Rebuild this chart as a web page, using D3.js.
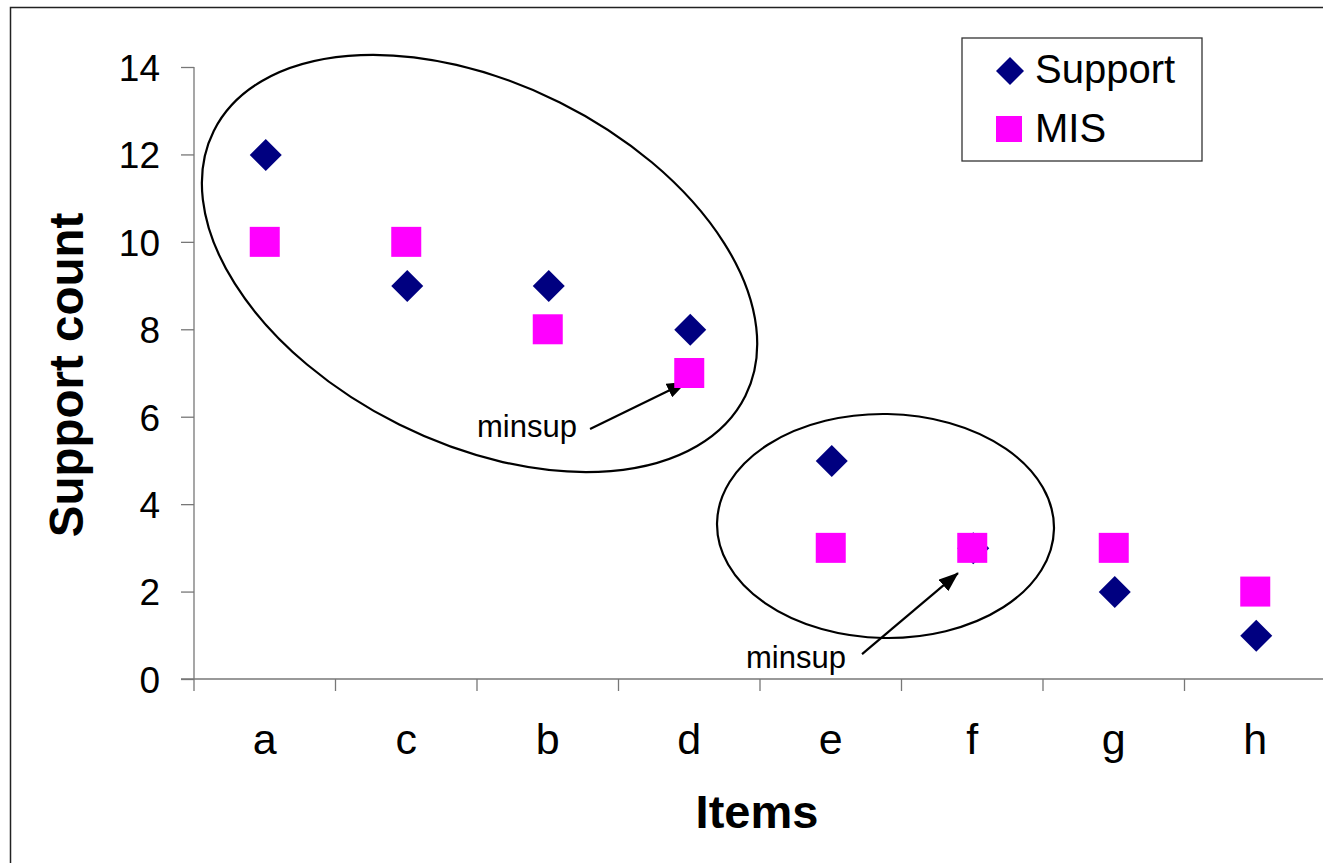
<!DOCTYPE html>
<html>
<head>
<meta charset="utf-8">
<script src="https://cdn.jsdelivr.net/npm/d3@7"></script>
<style>
  html, body { margin: 0; padding: 0; background: #fff; overflow: hidden; }
  svg { display: block; font-family: "Liberation Sans", Arial, Helvetica, sans-serif; }
</style>
</head>
<body>
<svg id="chart" width="1323" height="863"></svg>
<script>
const categories = ["a", "c", "b", "d", "e", "f", "g", "h"];
const supportValues = [12, 9, 9, 8, 5, 3, 2, 1];
const misValues = [10, 10, 8, 7, 3, 3, 3, 2];
const yTicks = [0, 2, 4, 6, 8, 10, 12, 14];
const seriesNames = ["Support", "MIS"];
const xTitle = "Items";
const yTitle = "Support count";
const annotationText = "minsup";

const svg = d3.select("#chart");
const W = 1323, H = 863;

// outer frame (extends beyond the visible area like the cropped original)
svg.append("rect").attr("x", 10.5).attr("y", 7.5).attr("width", W + 20).attr("height", H + 20)
  .attr("fill", "none").attr("stroke", "#222").attr("stroke-width", 1.5);

const x = d3.scaleBand().domain(categories).range([194, 1326]).padding(0);
const xi = d3.scaleLinear().domain([0, categories.length]).range([194, 1326]);
const y = d3.scaleLinear().domain([0, 14]).range([679, 67]);
const cx = c => x(c) + x.bandwidth() / 2;

const axisColor = "#777";

// y axis
const yAxis = d3.axisLeft(y).tickValues(yTicks).tickSize(13).tickPadding(21).tickFormat(d3.format("d"));
const gy = svg.append("g").attr("transform", "translate(194,0)").call(yAxis);
gy.select(".domain").attr("stroke", axisColor).attr("stroke-width", 1.3).attr("d", `M0,${y(14)}V${y(0)}`);
gy.selectAll(".tick line").attr("stroke", axisColor).attr("stroke-width", 1.3);
gy.selectAll(".tick text").attr("fill", "#000").attr("font-size", 37).attr("font-family", "Liberation Sans, Arial, sans-serif").attr("dy", "0.36em");

// x axis (ticks at category boundaries)
const gx = svg.append("g");
gx.append("line").attr("x1", 181).attr("x2", 1340).attr("y1", y(0)).attr("y2", y(0))
  .attr("stroke", axisColor).attr("stroke-width", 1.3);
const boundaries = categories.map(c => x(c)).concat([x(categories[categories.length - 1]) + x.bandwidth()]);
gx.selectAll("line.tk").data(boundaries).join("line").attr("class", "tk")
  .attr("x1", d => d).attr("x2", d => d).attr("y1", y(0)).attr("y2", y(0) + 12)
  .attr("stroke", axisColor).attr("stroke-width", 1.3);
gx.selectAll("text").data(categories).join("text")
  .attr("x", d => cx(d)).attr("y", 754).attr("text-anchor", "middle")
  .attr("font-size", 43).attr("fill", "#000").text(d => d);

// axis titles
svg.append("text").attr("x", 757).attr("y", 828).attr("text-anchor", "middle")
  .attr("font-size", 47).attr("font-weight", "bold").text(xTitle);
svg.append("text").attr("transform", "translate(83,375) rotate(-90)").attr("text-anchor", "middle")
  .attr("font-size", 47.5).attr("font-weight", "bold").text(yTitle);

// annotations: ellipses
const ellipses = [
  { ci: 2.018, cv: 9.505, rx: 297, ry: 180, rot: 26.5 },
  { ci: 4.887, cv: 3.50, rx: 168.5, ry: 112, rot: 1 }
];
svg.selectAll("ellipse.ann").data(ellipses).join("ellipse").attr("class", "ann")
  .attr("cx", 0).attr("cy", 0).attr("rx", d => d.rx).attr("ry", d => d.ry)
  .attr("transform", d => `translate(${xi(d.ci)},${y(d.cv)}) rotate(${d.rot})`)
  .attr("fill", "none").attr("stroke", "#000").attr("stroke-width", 2.2);

// arrow marker
svg.append("defs").append("marker").attr("id", "ah").attr("markerUnits", "userSpaceOnUse")
  .attr("viewBox", "0 0 20 15").attr("refX", 19).attr("refY", 7.5)
  .attr("markerWidth", 20).attr("markerHeight", 15).attr("orient", "auto")
  .append("path").attr("d", "M0,0L20,7.5L0,15Z").attr("fill", "#000");

const arrows = [
  { i1: 2.799, v1: 5.72, i2: 3.477, v2: 6.79, ti: 2.0, tv: 5.54 },
  { i1: 4.721, v1: 0.57, i2: 5.399, v2: 2.42, ti: 3.901, tv: 0.25 }
];
svg.selectAll("line.arr").data(arrows).join("line").attr("class", "arr")
  .attr("x1", d => xi(d.i1)).attr("y1", d => y(d.v1)).attr("x2", d => xi(d.i2)).attr("y2", d => y(d.v2))
  .attr("stroke", "#000").attr("stroke-width", 2.2).attr("marker-end", "url(#ah)");
svg.selectAll("text.arr").data(arrows).join("text").attr("class", "arr")
  .attr("x", d => xi(d.ti)).attr("y", d => y(d.tv)).attr("font-size", 31).attr("fill", "#000")
  .text(annotationText);

// data marks
const navy = "#000080", magenta = "#FF00FF";
svg.selectAll("path.sup").data(categories).join("path").attr("class", "sup")
  .attr("d", "M0,-16L16,0L0,16L-16,0Z")
  .attr("transform", (d, i) => `translate(${cx(d) + 1},${y(supportValues[i]) + 0.5})`)
  .attr("fill", navy);
svg.selectAll("rect.mis").data(categories).join("rect").attr("class", "mis")
  .attr("x", d => cx(d) - 15).attr("y", (d, i) => y(misValues[i]) - 15)
  .attr("width", 30).attr("height", 30).attr("fill", magenta);

// legend
const lg = svg.append("g");
lg.append("rect").attr("x", 962).attr("y", 38).attr("width", 240).attr("height", 123)
  .attr("fill", "#fff").attr("stroke", "#333").attr("stroke-width", 1.3);
lg.append("path").attr("d", "M0,-14L14,0L0,14L-14,0Z").attr("transform", "translate(1010,71)").attr("fill", navy);
lg.append("rect").attr("x", 996).attr("y", 116).attr("width", 26).attr("height", 26).attr("fill", magenta);
lg.append("text").attr("x", 1035).attr("y", 83).attr("font-size", 40).text(seriesNames[0]);
lg.append("text").attr("x", 1035).attr("y", 142).attr("font-size", 40).text(seriesNames[1]);
</script>
</body>
</html>
